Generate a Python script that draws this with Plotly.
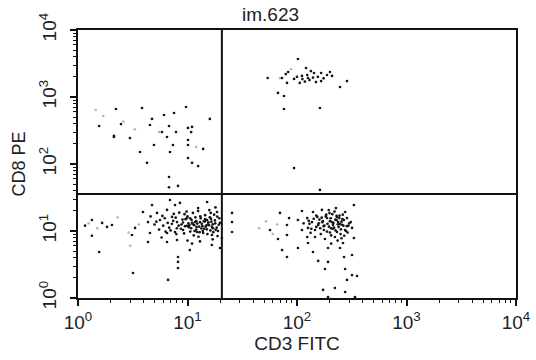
import plotly.graph_objects as go

# ---- data ----
title_text = "im.623"
x_title = "CD3 FITC"
y_title = "CD8 PE"
decade_vals = [1, 10, 100, 1000, 10000]
decade_labels = ["10<sup>0</sup>", "10<sup>1</sup>", "10<sup>2</sup>", "10<sup>3</sup>", "10<sup>4</sup>"]
gate_x = 20.6
gate_y = 35.7

# CD3-CD8+ (upper left)
ul_x = [2.22, 2.13, 2.47, 2.98, 4.74, 6.10, 7.53, 9.69, 16.0, 4.54, 6.78, 5.85, 7.85, 6.50,
        10.1, 11.0, 10.8, 10.1, 7.37, 10.1, 4.94, 3.68, 13.9, 10.1, 11.0, 12.5, 4.27, 6.78,
        6.78, 8.19, 6.92, 3.84, 1.56, 2.13]
ul_y = [662, 253, 395, 244, 470, 539, 577, 709, 470, 382, 369, 300, 300, 253,
        345, 357, 300, 228, 192, 192, 192, 151, 168, 123, 104, 93, 104, 64,
        45, 47, 151, 685, 369, 262]

# CD3+CD8+ (upper right)
ur_x = [102, 83, 79, 73, 81, 94, 106, 111, 121, 124, 126, 134, 143, 149, 166, 166, 188, 200,
        209, 247, 286, 76, 76, 162, 67, 54, 112, 118, 130, 155, 175, 140, 100, 94, 162]
ur_y = [3690, 2360, 2200, 1920, 1620, 1860, 1620, 2060, 2710, 2130, 1920, 2440, 2280, 1670,
        2280, 1730, 2130, 2360, 2060, 1410, 1730, 1035, 662, 685, 1150, 1920, 1850, 1700,
        1800, 2000, 1900, 1950, 2000, 87, 41]

# CD3-CD8- (lower left)
ll_x = [4.74, 6.92, 7.69, 8.53, 15.1, 12.5, 18.6, 3.92, 5.27, 6.50, 4.36, 5.61, 7.22, 8.02,
        9.90, 11.2, 11.0, 13.0, 15.1, 16.7, 19.8, 9.10, 7.69, 12.2, 13.9, 16.7, 6.50, 4.54,
        4.36, 6.50, 8.02, 10.5, 16.7, 19.8, 3.32, 3.11, 1.66, 1.84, 2.04, 1.56, 1.34, 8.19,
        8.19, 8.19, 6.64, 3.18, 25.5, 25.5, 25.5, 20.6,
        8.8, 9.5, 10.2, 10.8, 11.5, 12.0, 12.8, 13.5, 14.2, 14.8, 15.5, 16.2, 17.0, 17.8,
        18.5, 9.0, 10.0, 11.8, 13.2, 14.5, 16.0, 17.5, 8.0, 9.3, 10.6, 11.4, 12.6, 13.8,
        15.2, 17.2, 18.8, 7.2, 6.8, 6.0, 5.5, 5.0, 6.2, 7.5, 9.8, 12.5, 15.8, 18.0, 4.6,
        5.8, 10.0, 13.0, 11.0, 14.5, 12.0, 10.4, 16.5, 19.5, 19.0, 17.0, 1.16, 1.34,
        5.2, 5.9, 6.6, 7.0, 7.4, 7.8, 8.3, 8.7, 9.1, 9.6, 10.3, 10.9, 11.6, 12.3, 13.1, 13.7,
        14.4, 15.0, 15.7, 16.4, 17.1, 17.9, 18.7, 19.3, 6.3, 7.9, 9.4, 11.1, 12.9, 14.7,
        16.3, 18.1, 9.9, 11.7, 13.4, 15.4, 8.4, 10.6, 12.1, 14.1]
ll_y = [24.4, 29.0, 24.4, 26.2, 27.1, 22.0, 19.2, 19.2, 18.6, 20.6, 13.6, 14.6, 16.2, 13.6,
        15.6, 18.6, 13.2, 13.6, 14.6, 11.5, 13.2, 10.35, 9.66, 9.66, 9.34, 8.71, 9.34, 9.34,
        6.85, 6.85, 7.34, 5.20, 6.18, 5.58, 11.1, 8.71, 13.2, 11.5, 12.3, 4.86, 14.6, 4.09,
        3.45, 2.80, 1.86, 2.36, 18.6, 13.6, 9.66, 7.86,
        12.5, 11.8, 13.0, 11.0, 12.2, 14.0, 11.6, 12.8, 10.8, 12.0, 13.5, 10.2, 12.6, 14.4,
        11.2, 14.8, 16.5, 16.0, 15.5, 17.2, 16.0, 17.5, 11.0, 9.2, 9.8, 8.6, 8.2, 10.0,
        9.0, 9.6, 8.4, 12.8, 11.2, 12.0, 10.5, 12.5, 15.5, 18.0, 19.5, 19.8, 20.5, 22.5, 16.5,
        8.0, 7.2, 7.0, 6.5, 15.0, 10.5, 12.2, 13.8, 15.5, 10.0, 7.5, 12.0, 8.5,
        13.8, 16.8, 13.2, 10.2, 14.2, 15.8, 12.0, 10.8, 13.4, 15.0, 11.4, 14.6, 10.0, 12.9,
        16.6, 11.8, 13.9, 10.6, 12.2, 15.2, 11.0, 13.0, 16.4, 12.4, 9.8, 9.0, 17.8, 12.8,
        9.6, 11.6, 18.6, 10.4, 11.9, 13.6, 10.9, 12.6, 18.8, 15.4, 11.5, 14.0]

# CD3+CD8- (lower right)
lr_x = [331, 227, 169, 140, 275, 111, 69.9, 84.6, 124, 153, 188, 232, 286, 102, 137, 156, 213,
        247, 318, 56.7, 81, 111, 126, 146, 176, 232, 275, 124, 146, 180, 222, 263, 331, 67,
        81, 102, 126, 73, 81, 140, 192, 247, 156, 192, 180, 275, 318, 353, 286, 173, 222,
        275, 192, 338, 269, 318,
        200, 215, 230, 240, 255, 265, 205, 190, 170, 160, 185, 210, 245, 260, 225, 250, 200,
        165, 285, 300, 220, 195, 150, 130, 270, 235, 205,
        115, 128, 135, 142, 158, 163, 172, 178, 183, 196, 203, 208, 218, 224, 236, 243, 252,
        258, 268, 280, 295, 310, 133, 150, 175, 198, 230, 262, 290, 168, 188, 212, 238, 255, 205]
lr_y = [24.4, 22.0, 20.6, 19.2, 19.2, 19.9, 18.6, 15.6, 15.6, 16.2, 15.6, 16.2, 15.6, 14.6,
        13.6, 12.3, 12.3, 12.7, 11.1, 10.35, 12.3, 10.35, 11.1, 10.35, 10.35, 9.66, 10.35,
        8.14, 8.14, 7.60, 8.14, 6.62, 7.86, 7.60, 8.71, 5.58, 6.62, 5.20, 4.09, 4.86, 5.58,
        5.58, 3.57, 3.45, 2.71, 2.71, 2.20, 2.13, 1.86, 1.32, 1.41, 1.23, 1.03, 1.03, 4.09, 4.38,
        14.0, 13.2, 14.5, 11.5, 13.8, 12.0, 11.0, 12.8, 13.5, 14.8, 17.5, 17.8, 17.0, 15.0,
        10.2, 9.0, 9.5, 9.0, 11.8, 13.0, 19.5, 20.5, 11.5, 12.8, 8.5, 7.2, 6.5,
        13.0, 14.2, 10.8, 15.2, 13.0, 11.0, 14.0, 12.0, 16.5, 11.6, 15.5, 13.6, 11.2, 14.8,
        12.6, 15.6, 10.6, 12.4, 14.6, 10.0, 12.0, 13.6, 9.4, 17.0, 11.8, 18.5, 16.8, 17.5,
        9.5, 15.8, 9.8, 10.8, 13.6, 7.8, 8.6]

# faint (light grey) events
faint_x = [1.45, 1.7, 2.6, 3.3, 1.25, 1.5, 2.3, 2.9, 3.6, 45, 52, 60, 66, 70, 88, 5.5, 12, 3.0]
faint_y = [640, 520, 430, 330, 13, 11, 16, 9.5, 12.5, 11, 14, 9, 12.5, 1900, 2600, 300, 180, 6]

minor_vals = [m * d for d in (1, 10, 100, 1000) for m in range(2, 10)]

FONT = "Liberation Sans, Arial, sans-serif"

fig = go.Figure()
fig.add_trace(go.Scatter(x=faint_x, y=faint_y, mode="markers",
                         marker=dict(size=2.6, color="#b5b5b5"),
                         showlegend=False, hoverinfo="skip"))
dot = dict(size=2.7, color="#151515")
for xs, ys in ((ul_x, ul_y), (ur_x, ur_y), (ll_x, ll_y), (lr_x, lr_y)):
    fig.add_trace(go.Scatter(x=xs, y=ys, mode="markers", marker=dot,
                             showlegend=False, hoverinfo="skip"))

# quadrant gate lines
fig.add_trace(go.Scatter(x=[gate_x, gate_x], y=[1, 10000], mode="lines",
                         line=dict(color="#111", width=2), showlegend=False, hoverinfo="skip"))
fig.add_trace(go.Scatter(x=[1, 10000], y=[gate_y, gate_y], mode="lines",
                         line=dict(color="#111", width=2), showlegend=False, hoverinfo="skip"))

axis_common = dict(
    type="log", range=[0, 4], showgrid=False, zeroline=False, automargin=False,
    showline=True, mirror=True, linecolor="#111", linewidth=2,
    ticks="outside", ticklen=6, tickwidth=1.5, tickcolor="#111",
    tickvals=decade_vals, ticktext=decade_labels,
    tickfont=dict(family=FONT, size=19, color="#222"),
    minor=dict(ticks="outside", ticklen=3, tickwidth=1, tickcolor="#111", tickvals=minor_vals),
)

fig.update_layout(
    width=536, height=360,
    margin=dict(l=78, r=20, t=30, b=62),
    paper_bgcolor="white", plot_bgcolor="white",
    font=dict(family=FONT, color="#222"),
    hovermode=False,
    xaxis=dict(**axis_common, title=dict(text=x_title, font=dict(size=19), standoff=0)),
    yaxis=dict(**axis_common, tickangle=-90, ticklabelstandoff=6,
               title=dict(text=y_title, font=dict(size=18), standoff=6)),
    annotations=[dict(text=title_text, xref="paper", yref="paper", x=0.44, y=1.056,
                      xanchor="center", yanchor="middle", showarrow=False,
                      font=dict(size=19, color="#222"))],
)

# remove the default 8px page margin so the figure sits at the window origin
fig.write_html("out.html", config={"displayModeBar": False},
               post_script="document.body.style.margin='0';")
